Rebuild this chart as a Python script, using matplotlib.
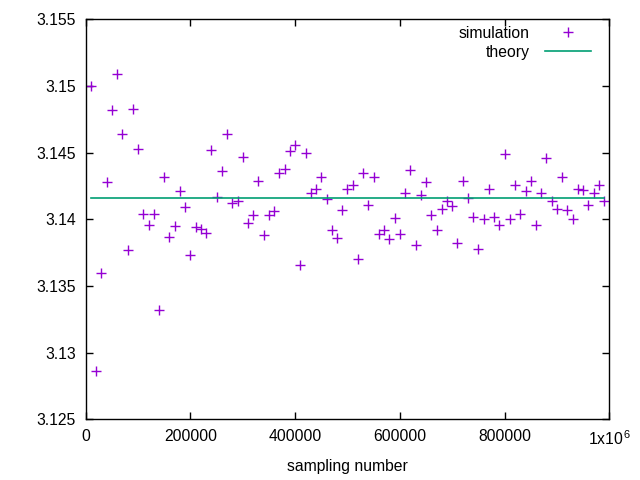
import matplotlib
matplotlib.use("Agg")
import matplotlib.pyplot as plt
import numpy as np

plt.rcParams['font.family'] = ['Liberation Sans', 'DejaVu Sans']
plt.rcParams['mathtext.fontset'] = 'custom'
plt.rcParams['mathtext.rm'] = 'Liberation Sans'
plt.rcParams['mathtext.it'] = 'Liberation Sans'

sampling = list(range(10000, 1000000, 10000))
simulation = [
    3.1500, 3.1286, 3.1360, 3.1428, 3.1482, 3.1509, 3.1464, 3.1377, 3.1483, 3.1453,
    3.1404, 3.1396, 3.1404, 3.1332, 3.1432, 3.1387, 3.1395, 3.1421, 3.1409, 3.1373,
    3.1394, 3.1393, 3.1390, 3.1452, 3.1417, 3.1436, 3.1464, 3.1412, 3.1414, 3.1447,
    3.1397, 3.1403, 3.1429, 3.1388, 3.1403, 3.1406, 3.1435, 3.1438, 3.1451, 3.1456,
    3.1366, 3.1450, 3.1420, 3.1423, 3.1432, 3.1415, 3.1392, 3.1386, 3.1407, 3.1423,
    3.1426, 3.1370, 3.1435, 3.1411, 3.1432, 3.1389, 3.1392, 3.1385, 3.1401, 3.1389,
    3.1420, 3.1437, 3.1381, 3.1418, 3.1428, 3.1403, 3.1392, 3.1408, 3.1414, 3.1410,
    3.1382, 3.1429, 3.1416, 3.1402, 3.1378, 3.1400, 3.1423, 3.1402, 3.1396, 3.1449,
    3.1400, 3.1426, 3.1404, 3.1421, 3.1429, 3.1396, 3.1420, 3.1446, 3.1414, 3.1408,
    3.1432, 3.1407, 3.1400, 3.1423, 3.1422, 3.1411, 3.1420, 3.1426, 3.1414,
]
theory = [np.pi] * len(sampling)

xticks = [0, 200000, 400000, 600000, 800000, 1000000]
xticklabels = ['0', '200000', '400000', '600000', '800000', r'1x10$^{\,6}$']
yticks = [3.125, 3.13, 3.135, 3.14, 3.145, 3.15, 3.155]
yticklabels = ['3.125', '3.13', '3.135', '3.14', '3.145', '3.15', '3.155']

fig = plt.figure(figsize=(6.4, 4.8), dpi=100)
ax = fig.add_axes([85.7/640, 1 - 419.3/480, (609.3-85.7)/640, (419.3-19.3)/480])

fs = 11.3
ax.plot(sampling, simulation, linestyle='none', marker='+', color='#9400D3',
        markersize=7, markeredgewidth=1.0, label='simulation')
ax.plot(sampling, theory, color='#009E73', linewidth=1.2, label='theory')

ax.set_xlim(0, 1000000)
ax.set_ylim(3.125, 3.155)
ax.set_xticks(xticks)
ax.set_xticklabels(xticklabels, fontsize=fs)
ax.set_yticks(yticks)
ax.set_yticklabels(yticklabels, fontsize=fs)
ax.tick_params(direction='in', length=5, width=1, top=True, right=True, pad=7, colors='black')
for s in ax.spines.values():
    s.set_linewidth(1.0)
ax.set_xlabel('sampling number', fontsize=fs, labelpad=8)

leg = ax.legend(loc='upper right', bbox_to_anchor=(0.989, 1.015), frameon=False, markerfirst=False,
                fontsize=fs, handlelength=2.9, handletextpad=1.0, labelspacing=0.25, borderpad=0.3)
for t in leg.get_texts():
    t.set_ha('right')
leg._legend_box.align = 'right'

fig.savefig('out.png', dpi=100)
